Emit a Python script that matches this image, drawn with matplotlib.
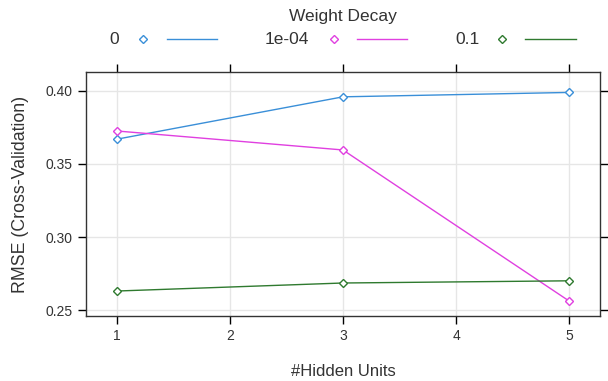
import matplotlib
matplotlib.use('Agg')
import matplotlib.pyplot as plt
from matplotlib.lines import Line2D

plt.rcParams['font.family'] = ['Liberation Sans', 'DejaVu Sans']

hidden_units = [1, 3, 5]
decay_labels = ["0", "1e-04", "0.1"]
rmse_0 = [0.367, 0.396, 0.399]
rmse_1e4 = [0.3726, 0.3596, 0.2562]
rmse_01 = [0.263, 0.2685, 0.270]
series = [rmse_0, rmse_1e4, rmse_01]
colors = ["#3a8fd8", "#e040e0", "#2f7a2f"]

W, H = 608, 381
fig = plt.figure(figsize=(W / 100, H / 100), dpi=100)
ax = fig.add_axes([86 / W, 1 - 316 / H, (600 - 86) / W, (316 - 72) / H])

for vals, c in zip(series, colors):
    ax.plot(hidden_units, vals, color=c, lw=1, marker="D", ms=4,
            mfc="white", mec=c, mew=1, zorder=3)

ax.set_xlim(0.726, 5.274)
ax.set_ylim(0.2459, 0.413)
ax.set_xticks([1, 2, 3, 4, 5])
ax.set_yticks([0.25, 0.30, 0.35, 0.40])
ax.set_yticklabels(["0.25", "0.30", "0.35", "0.40"])
ax.grid(True, color="#e6e6e6", lw=1, zorder=0)
ax.set_axisbelow(True)
ax.tick_params(direction="out", length=6, width=1, colors="black",
               labelsize=10, labelcolor="#333333",
               top=True, right=True, labeltop=False, labelright=False)
for s in ax.spines.values():
    s.set_linewidth(1)
    s.set_color("#333333")

ax.set_xlabel("#Hidden Units", fontsize=12, color="#333333", labelpad=15)
ax.set_ylabel("RMSE (Cross-Validation)", fontsize=12.8, color="#333333", labelpad=12)

# legend on top
fig.text(343 / W, 1 - 16 / H, "Weight Decay", ha="center", va="center",
         fontsize=12.5, color="#333333")
ly = 1 - 39 / H
text_x = [114, 287, 467]
mark_x = [143, 334, 502]
line_x = [(167, 217), (357, 407), (525, 576)]
for lab, c, tx, mx, (x0, x1) in zip(decay_labels, colors, text_x, mark_x, line_x):
    fig.text(tx / W, ly, lab, ha="center", va="center", fontsize=12.5, color="#333333")
    fig.add_artist(Line2D([mx / W], [ly], marker="D", ms=4, mfc="white",
                          mec=c, mew=1, ls="none", transform=fig.transFigure))
    fig.add_artist(Line2D([x0 / W, x1 / W], [ly, ly], color=c, lw=1,
                          transform=fig.transFigure))

fig.savefig("out.png", dpi=100)
